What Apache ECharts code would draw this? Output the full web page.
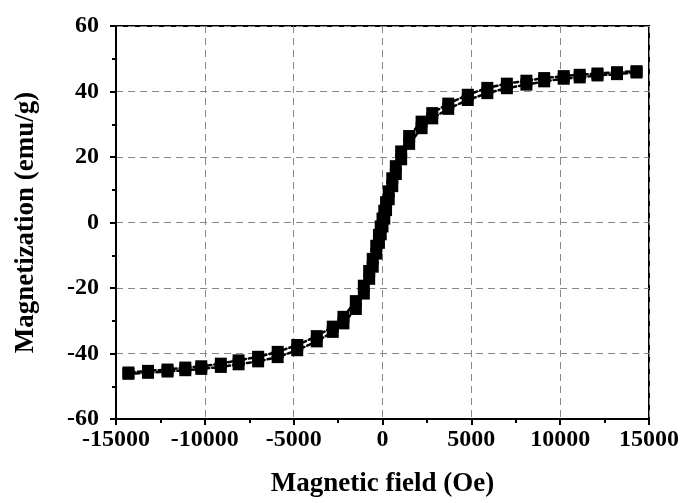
<!DOCTYPE html>
<html>
<head>
<meta charset="utf-8">
<script src="https://cdn.jsdelivr.net/npm/echarts@6/dist/echarts.min.js"></script>
<style>
html,body{margin:0;padding:0;background:#fff;}
#chart{width:686px;height:503px;}
</style>
</head>
<body>
<div id="chart"></div>
<script>
// Ascending branch (field swept from -H to +H)
const fieldUp = [-14300,-13200,-12100,-11100,-10200,-9100,-8100,-7000,-5900,-4800,-3700,-2800,-2200,-1500,-1050,-750,-550,-350,-200,-100,0,100,200,350,550,750,1050,1500,2200,2800,3700,4800,5900,7000,8100,9100,10200,11100,12100,13200,14300];
const magUp = [-46.2,-45.9,-45.5,-45.1,-44.7,-44.1,-43.3,-42.4,-41.1,-39.0,-36.3,-33.4,-30.8,-26.4,-21.7,-17.2,-13.5,-9.5,-6.2,-3.6,-1.2,1.2,3.8,7.1,11.1,14.8,19.3,24.0,28.8,31.8,34.7,37.4,39.5,41.0,42.1,43.1,43.9,44.3,44.9,45.3,45.8];
// Descending branch (field swept from +H to -H)
const fieldDown = [14300,13200,12100,11100,10200,9100,8100,7000,5900,4800,3700,2800,2200,1500,1050,750,550,350,200,100,0,-100,-200,-350,-550,-750,-1050,-1500,-2200,-2800,-3700,-4800,-5900,-7000,-8100,-9100,-10200,-11100,-12100,-13200,-14300];
const magDown = [46.2,45.9,45.5,45.1,44.7,44.1,43.3,42.4,41.1,39.0,36.3,33.4,30.8,26.4,21.7,17.2,13.5,9.5,6.2,3.6,1.2,-1.2,-3.8,-7.1,-11.1,-14.8,-19.3,-24.0,-28.8,-31.8,-34.7,-37.4,-39.5,-41.0,-42.1,-43.1,-43.9,-44.3,-44.9,-45.3,-45.8];

const xTitle = 'Magnetic field (Oe)';
const yTitle = 'Magnetization (emu/g)';

const pair = (xs, ys) => xs.map((x, i) => [x, ys[i]]);
const font = 'Liberation Serif, Times New Roman, serif';

const chart = echarts.init(document.getElementById('chart'), null, {renderer: 'canvas'});
const lineStyle = {color: '#000', width: 2.5, type: [4, 3], cap: 'round'};
const itemStyle = {color: '#000'};

chart.setOption({
  animation: false,
  backgroundColor: '#fff',
  grid: {left: 116, right: 37, top: 26, bottom: 81, show: true, borderColor: '#000', borderWidth: 2, backgroundColor: 'transparent'},
  xAxis: {
    type: 'value', min: -15000, max: 15000, interval: 5000,
    name: xTitle, nameLocation: 'middle', nameGap: 52,
    nameTextStyle: {fontFamily: font, fontWeight: 'bold', fontSize: 27, color: '#000'},
    axisLine: {show: true, onZero: false, lineStyle: {color: '#000', width: 2}},
    axisTick: {show: true, inside: false, length: 6, lineStyle: {color: '#000', width: 2}},
    minorTick: {show: true, splitNumber: 2, length: 4, lineStyle: {color: '#000', width: 2}},
    axisLabel: {fontFamily: font, fontWeight: 'bold', fontSize: 24, color: '#000', margin: 9, formatter: v => String(v)},
    splitLine: {show: true, lineStyle: {color: '#888', width: 1, type: [7, 5]}}
  },
  yAxis: {
    type: 'value', min: -60, max: 60, interval: 20,
    name: yTitle, nameLocation: 'middle', nameGap: 76, nameRotate: 90,
    nameTextStyle: {fontFamily: font, fontWeight: 'bold', fontSize: 27, color: '#000'},
    axisLine: {show: true, onZero: false, lineStyle: {color: '#000', width: 2}},
    axisTick: {show: true, inside: false, length: 6, lineStyle: {color: '#000', width: 2}},
    minorTick: {show: true, splitNumber: 2, length: 4, lineStyle: {color: '#000', width: 2}},
    axisLabel: {fontFamily: font, fontWeight: 'bold', fontSize: 24, color: '#000', margin: 17, formatter: v => String(v)},
    splitLine: {show: true, lineStyle: {color: '#888', width: 1, type: [7, 5]}}
  },
  series: [
    {type: 'line', data: pair(fieldUp, magUp), symbol: 'rect', symbolSize: 12, showSymbol: true, lineStyle, itemStyle, z: 3},
    {type: 'line', data: pair(fieldDown, magDown), symbol: 'rect', symbolSize: 12, showSymbol: true, lineStyle, itemStyle, z: 3}
  ]
});
</script>
</body>
</html>
